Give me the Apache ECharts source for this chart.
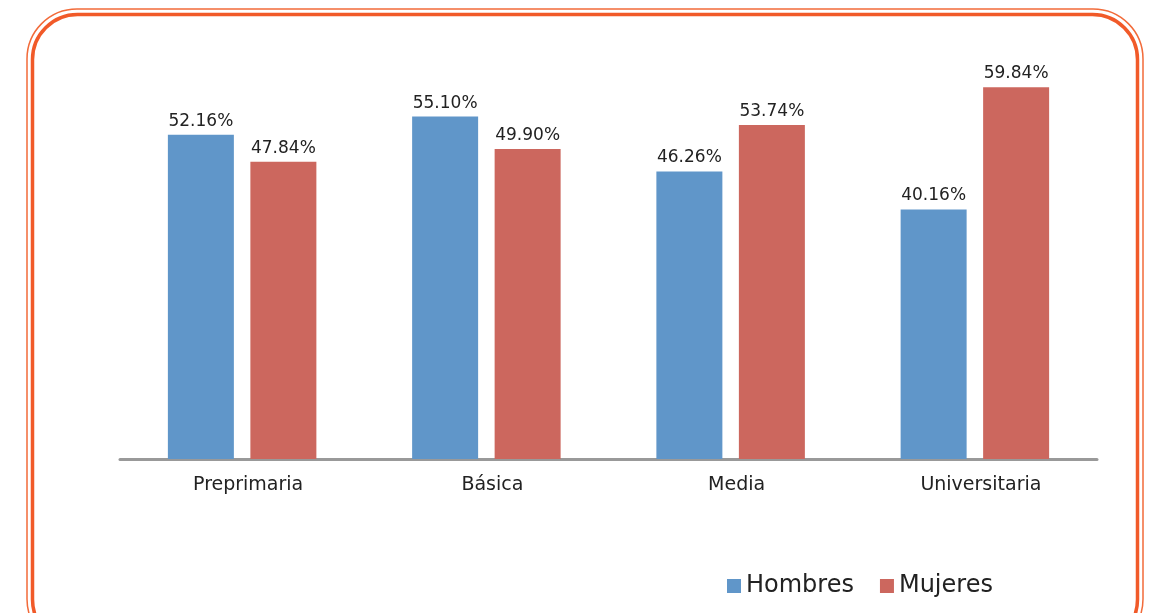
<!DOCTYPE html>
<html>
<head>
<meta charset="utf-8">
<script src="https://cdn.jsdelivr.net/npm/echarts@6/dist/echarts.min.js"></script>
<style>
  html, body { margin: 0; padding: 0; background: #fff; }
  #chart { width: 1150px; height: 613px; }
</style>
</head>
<body>
<div id="chart"></div>
<script>
// niveles educativos
const categories = ['Preprimaria', 'Básica', 'Media', 'Universitaria']
const hombres = [52.16, 55.10, 46.26, 40.16]
const mujeres = [47.84, 49.90, 53.74, 59.84]
const seriesNames = ['Hombres', 'Mujeres']

const colors = ['#6096C9', '#CC675E']
const fontFam = '"DejaVu Sans", sans-serif'

const myChart = echarts.init(document.getElementById('chart'))

const labelStyle = {
  show: true,
  position: 'top',
  distance: 5,
  color: '#222',
  fontSize: 17,
  fontFamily: fontFam,
  formatter: function (p) {
    return p.value.toFixed(2) + '%'
  }
}

const option = {
  animation: false,
  color: colors,
  grid: {
    left: 120,
    right: 53,
    top: 24,
    bottom: 154
  },
  xAxis: {
    type: 'category',
    data: categories,
    axisTick: { show: false },
    axisLine: {
      lineStyle: { color: '#999', width: 3 }
    },
    axisLabel: {
      color: '#222',
      fontSize: 19,
      fontFamily: fontFam,
      margin: 17,
      // etiquetas un poco a la derecha como en el original
      padding: [0, 0, 0, 12]
    }
  },
  yAxis: {
    type: 'value',
    min: 0,
    max: 70,
    show: false,
    splitLine: { show: false }
  },
  legend: {
    data: seriesNames,
    left: 722,
    top: 569,
    itemWidth: 14,
    itemHeight: 14,
    itemGap: 26,
    icon: 'rect',
    textStyle: {
      color: '#222',
      fontSize: 24,
      fontFamily: fontFam
    }
  },
  graphic: [
    // marco naranja doble
    {
      type: 'rect',
      shape: { x: 27, y: 9, width: 1116, height: 640, r: 50 },
      style: { fill: 'none', stroke: '#F26B3A', lineWidth: 1.5 },
      silent: true
    },
    {
      type: 'rect',
      shape: { x: 32.5, y: 14.5, width: 1105, height: 630, r: 45 },
      style: { fill: 'none', stroke: '#F15A29', lineWidth: 3.5 },
      silent: true
    }
  ],
  series: [
    {
      name: seriesNames[0],
      type: 'bar',
      data: hombres,
      barWidth: 66,
      barGap: '25%',
      itemStyle: { color: colors[0] },
      label: labelStyle
    },
    {
      name: seriesNames[1],
      type: 'bar',
      data: mujeres,
      barWidth: 66,
      barGap: '25%',
      itemStyle: { color: colors[1] },
      label: labelStyle
    }
  ]
}

myChart.setOption(option)
</script>
</body>
</html>
